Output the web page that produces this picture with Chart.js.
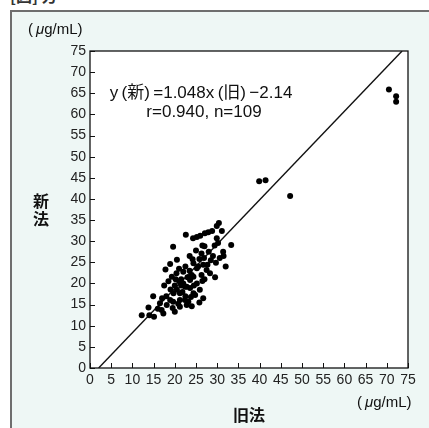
<!DOCTYPE html>
<html lang="ja">
<head>
<meta charset="UTF-8">
<title>新法 vs 旧法</title>
<script src="https://cdn.jsdelivr.net/npm/chart.js@4.4.1/dist/chart.umd.min.js"></script>
<style>
  html, body { margin: 0; padding: 0; background: #fff; }
  #wrap { position: relative; width: 429px; height: 428px; overflow: hidden; }
  #panel { position: absolute; left: 10px; top: 10px; width: 440px; height: 440px;
           background: #eef7f5; border: 2px solid #6e6e6e; }
  #myChart { position: absolute; left: 0; top: 0; }
  .lbl { position: absolute; color: #111; white-space: nowrap; line-height: 1;
         font-family: 'Liberation Sans', Arial, 'Noto Sans CJK JP', sans-serif; }
  .jp { font-family: 'Noto Sans CJK JP', sans-serif; font-weight: bold; font-size: 16px; }
</style>
</head>
<body>
<div id="wrap">
  <div class="lbl jp" style="left:10px; top:-13px; font-size:16px; color:#333;">[図] 方</div>
  <div id="panel"></div>
  <canvas id="myChart" width="429" height="428"></canvas>
  <div class="lbl" style="left:28px; top:21px; font-size:15px;">(&#8201;<i>μ</i>g/mL)</div>
  <div class="lbl jp" style="left:33px; top:192px;">新</div>
  <div class="lbl jp" style="left:33px; top:210px;">法</div>
  <div class="lbl jp" style="left:233px; top:406px;">旧法</div>
  <div class="lbl" style="left:357px; top:394px; font-size:15px;">(&#8201;<i>μ</i>g/mL)</div>
  <div class="lbl" style="left:201px; top:84px; font-size:17px; transform:translateX(-50%);">y&#8201;(新)&#8201;=1.048x&#8201;(旧)&#8201;−2.14</div>
  <div class="lbl" style="left:204px; top:103px; font-size:17px; transform:translateX(-50%);">r=0.940, n=109</div>
</div>
<script>
  // old method (x) vs new method (y), µg/mL
  var oldMethod = [
    70.5, 72.2, 72.2, 39.9, 41.4, 47.2,
    30.4, 29.9, 28.8, 27.9, 27.1, 31.1, 26.0, 25.2, 24.3, 22.6, 29.9, 19.6, 26.5, 29.4,
    33.3, 31.4, 26.3, 24.2, 25.8, 18.9, 17.8, 29.7, 27.7, 28.5, 26.9, 30.6,
    20.4, 19.3, 22.0, 22.8, 23.6, 24.0, 25.2, 25.2, 24.4, 25.5, 26.7, 27.5, 26.3, 28.3,
    24.4, 23.6, 25.9, 24.8, 22.4, 21.2, 22.4, 22.8, 19.6, 26.7, 24.4, 23.2, 21.2, 21.2,
    20.0, 18.1, 18.9, 19.7, 16.9, 17.3, 16.5, 15.1, 13.8, 12.2, 14.9, 21.0, 20.5, 21.8,
    22.5, 23.0, 21.5, 20.0, 19.0, 22.0, 23.5, 18.0, 17.0, 20.8, 23.8, 24.0, 16.0, 19.5,
    14.0, 21.5, 20.2, 22.5, 28.0, 29.0, 27.0, 23.5, 29.5, 31.5, 25.0, 26.5, 20.5, 18.5,
    24.5, 27.0, 30.2, 21.0, 25.8, 17.5, 32.0
  ]
  var newMethod = [
    65.9, 64.3, 63.0, 44.2, 44.4, 40.7,
    34.3, 33.6, 32.4, 32.1, 31.9, 32.4, 31.3, 31.0, 30.7, 31.5, 30.7, 28.7, 29.0, 29.0,
    29.1, 27.5, 27.1, 25.7, 25.8, 24.6, 23.3, 24.9, 24.4, 25.5, 26.0, 26.0,
    22.4, 21.6, 20.0, 19.2, 18.9, 22.0, 23.6, 20.0, 24.8, 24.0, 24.4, 23.2, 22.0, 22.4,
    21.6, 20.8, 18.5, 17.3, 19.2, 17.7, 16.1, 14.9, 15.7, 16.5, 17.7, 15.7, 16.1, 14.5,
    13.3, 14.9, 16.1, 17.7, 13.7, 12.9, 15.3, 12.1, 14.3, 12.5, 17.0, 20.5, 18.5, 18.0,
    17.0, 21.5, 21.0, 19.5, 18.6, 22.8, 23.0, 17.0, 16.5, 15.2, 16.8, 14.6, 14.0, 14.2,
    12.5, 19.5, 21.0, 24.0, 27.5, 26.5, 28.8, 26.5, 21.5, 26.5, 27.8, 20.6, 25.6, 20.5,
    19.5, 21.0, 29.6, 23.5, 15.5, 19.5, 24.0
  ]
  var slope = 1.048
  var intercept = -2.14
  var axisMin = 0
  var axisMax = 75
  var axisStep = 5

  var points = oldMethod.map(function (x, i) { return { x: x, y: newMethod[i] } })
  var fitLine = [
    { x: (axisMin - intercept) / slope, y: axisMin },
    { x: (axisMax - intercept) / slope, y: axisMax }
  ]

  var tickFont = { family: "'Liberation Sans Narrow', 'Liberation Sans', Arial, sans-serif", size: 14 }

  // white plot area, frame and inward tick marks
  var framePlugin = {
    id: 'frame',
    beforeDraw: function (chart) {
      var a = chart.chartArea, ctx = chart.ctx
      ctx.save()
      ctx.fillStyle = '#fff'
      ctx.fillRect(a.left, a.top, a.right - a.left, a.bottom - a.top)
      ctx.restore()
    },
    afterDraw: function (chart) {
      var a = chart.chartArea, ctx = chart.ctx
      ctx.save()
      ctx.strokeStyle = '#111'
      ctx.lineWidth = 1.3
      ctx.strokeRect(a.left, a.top, a.right - a.left, a.bottom - a.top)
      ctx.lineWidth = 1
      chart.scales.x.ticks.forEach(function (t) {
        var px = Math.round(chart.scales.x.getPixelForValue(t.value)) + 0.5
        ctx.beginPath(); ctx.moveTo(px, a.bottom); ctx.lineTo(px, a.bottom - 5); ctx.stroke()
      })
      chart.scales.y.ticks.forEach(function (t) {
        var py = Math.round(chart.scales.y.getPixelForValue(t.value)) + 0.5
        ctx.beginPath(); ctx.moveTo(a.left, py); ctx.lineTo(a.left + 5, py); ctx.stroke()
      })
      ctx.restore()
    }
  }

  var ctx = document.getElementById('myChart').getContext('2d')
  var myChart = new Chart(ctx, {
    type: 'scatter',
    data: {
      datasets: [
        {
          data: points,
          backgroundColor: '#000',
          borderWidth: 0,
          pointRadius: 3
        },
        {
          type: 'line',
          data: fitLine,
          borderColor: '#111',
          borderWidth: 1.4,
          pointRadius: 0,
          fill: false
        }
      ]
    },
    options: {
      responsive: false,
      animation: false,
      layout: { padding: { left: 0, top: 51, right: 21, bottom: 0 } },
      plugins: { legend: { display: false }, tooltip: { enabled: false } },
      scales: {
        x: {
          type: 'linear', min: axisMin, max: axisMax,
          grid: { display: false, drawTicks: false },
          border: { display: false },
          ticks: { stepSize: axisStep, color: '#222', font: tickFont, padding: 4, maxRotation: 0, autoSkip: false },
          afterFit: function (scale) { scale.height = 60 }
        },
        y: {
          type: 'linear', min: axisMin, max: axisMax,
          grid: { display: false, drawTicks: false },
          border: { display: false },
          ticks: { stepSize: axisStep, color: '#222', font: tickFont, padding: 4, autoSkip: false },
          afterFit: function (scale) { scale.width = 90 }
        }
      }
    },
    plugins: [framePlugin]
  })
</script>
</body>
</html>
